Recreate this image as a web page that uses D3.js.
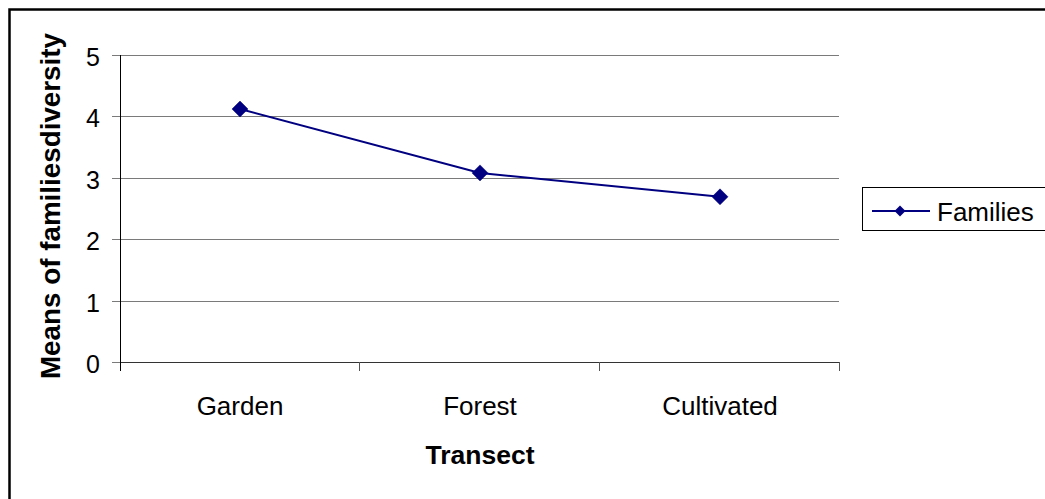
<!DOCTYPE html>
<html>
<head>
<meta charset="utf-8">
<script src="https://cdn.jsdelivr.net/npm/d3@7"></script>
<style>
  html, body { margin: 0; padding: 0; background: #fff; }
  svg { display: block; font-family: "Liberation Sans", Arial, sans-serif; }
</style>
</head>
<body>
<svg id="chart" width="1045" height="499"></svg>
<script>
const categories = ["Garden", "Forest", "Cultivated"];
const familiesValues = [4.12, 3.08, 2.69];
const yTicks = [0, 1, 2, 3, 4, 5];
const seriesName = "Families";
const xTitle = "Transect";
const yTitle = "Means of familiesdiversity";

const svg = d3.select("#chart");
const navy = "#000080";

// outer border (right/bottom lie outside the picture)
svg.append("rect").attr("x", 9.5).attr("y", 9.5).attr("width", 1100).attr("height", 600)
  .attr("fill", "none").attr("stroke", "#000").attr("stroke-width", 2.5);

const x = d3.scaleBand().domain(categories).range([120, 840]).padding(0);
const y = d3.scaleLinear().domain([0, 5]).range([362, 55]);
const cx = c => x(c) + x.bandwidth() / 2;

// gridlines + left ticks
const g = svg.append("g");
g.selectAll("line.grid").data(yTicks.filter(t => t > 0)).enter().append("line")
  .attr("x1", 112).attr("x2", 839)
  .attr("y1", d => Math.round(y(d)) + 0.5).attr("y2", d => Math.round(y(d)) + 0.5)
  .attr("stroke", "#7a7a7a").attr("stroke-width", 1);
g.append("line").attr("x1", 112).attr("x2", 120).attr("y1", y(0) + 0.5).attr("y2", y(0) + 0.5)
  .attr("stroke", "#7a7a7a");

// x axis line
g.append("line").attr("x1", 120).attr("x2", 839.5).attr("y1", y(0) + 0.5).attr("y2", y(0) + 0.5)
  .attr("stroke", "#333").attr("stroke-width", 1);
const bounds = categories.map(c => x(c)).concat([x(categories[categories.length - 1]) + x.bandwidth()]);
g.selectAll("line.xt").data(bounds.slice(1)).enter().append("line")
  .attr("x1", d => Math.round(d) - 0.5).attr("x2", d => Math.round(d) - 0.5)
  .attr("y1", y(0)).attr("y2", y(0) + 9)
  .attr("stroke", "#555").attr("stroke-width", 1);
// y axis line
g.append("line").attr("x1", 120.5).attr("x2", 120.5).attr("y1", y(5)).attr("y2", y(0) + 9)
  .attr("stroke", "#000").attr("stroke-width", 1);

// y tick labels
svg.selectAll("text.yt").data(yTicks).enter().append("text")
  .attr("x", 100).attr("y", d => y(d) + 11)
  .attr("text-anchor", "end").attr("font-size", 25).attr("fill", "#000")
  .text(d => d);

// x tick labels
svg.selectAll("text.xt").data(categories).enter().append("text")
  .attr("x", d => cx(d)).attr("y", 415)
  .attr("text-anchor", "middle").attr("font-size", 26).attr("fill", "#000")
  .text(d => d);

// axis titles
svg.append("text").attr("x", 480).attr("y", 464).attr("text-anchor", "middle")
  .attr("font-size", 26.5).attr("font-weight", "bold").text(xTitle);
svg.append("text").attr("transform", "translate(60,206) rotate(-90)")
  .attr("text-anchor", "middle").attr("font-size", 27.8).attr("font-weight", "bold").text(yTitle);

// series line
const line = d3.line().x((d, i) => cx(categories[i])).y(d => y(d));
svg.append("path").datum(familiesValues).attr("d", line)
  .attr("fill", "none").attr("stroke", navy).attr("stroke-width", 2);
const diamond = (px, py, r) => `M${px},${py - r}L${px + r},${py}L${px},${py + r}L${px - r},${py}Z`;
svg.selectAll("path.pt").data(familiesValues).enter().append("path")
  .attr("d", (d, i) => diamond(cx(categories[i]), y(d), 8))
  .attr("fill", navy).attr("stroke", navy).attr("stroke-width", 0.5);

// legend
const lg = svg.append("g");
lg.append("rect").attr("x", 862.5).attr("y", 187.5).attr("width", 190).attr("height", 43)
  .attr("fill", "#fff").attr("stroke", "#000").attr("stroke-width", 1);
lg.append("line").attr("x1", 872).attr("x2", 930).attr("y1", 211).attr("y2", 211)
  .attr("stroke", navy).attr("stroke-width", 2);
lg.append("path").attr("d", diamond(900, 211, 5.5)).attr("fill", navy);
lg.append("text").attr("x", 937).attr("y", 221).attr("font-size", 26).text(seriesName);
</script>
</body>
</html>
